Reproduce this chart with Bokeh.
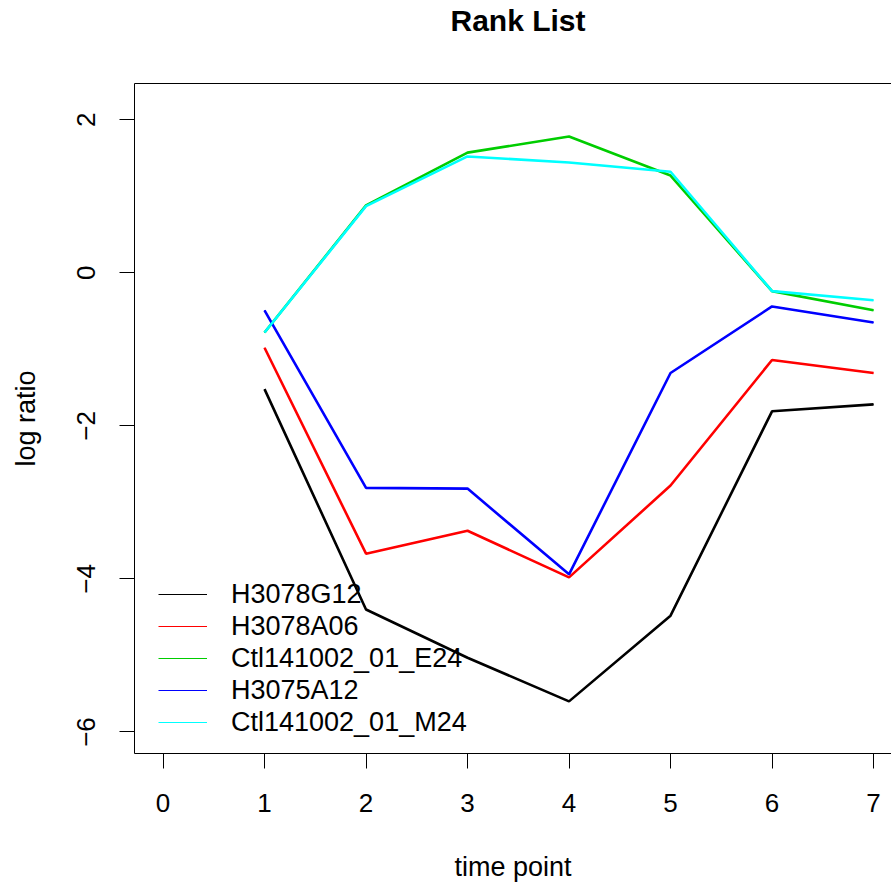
from bokeh.plotting import figure
from bokeh.models import Range1d, FixedTicker, Legend, LegendItem, Title, LinearAxis
from bokeh.embed import file_html
from bokeh.resources import INLINE

# ---- data ----
time_points = [1, 2, 3, 4, 5, 6, 7]
H3078G12 = [-1.52, -4.40, -5.03, -5.60, -4.48, -1.81, -1.72]
H3078A06 = [-0.98, -3.67, -3.37, -3.98, -2.78, -1.14, -1.31]
Ctl141002_01_E24 = [-0.78, 0.88, 1.57, 1.78, 1.27, -0.24, -0.49]
H3075A12 = [-0.49, -2.81, -2.82, -3.94, -1.31, -0.44, -0.65]
Ctl141002_01_M24 = [-0.78, 0.87, 1.52, 1.44, 1.32, -0.24, -0.36]

series_names = ["H3078G12", "H3078A06", "Ctl141002_01_E24", "H3075A12", "Ctl141002_01_M24"]
series_values = [H3078G12, H3078A06, Ctl141002_01_E24, H3075A12, Ctl141002_01_M24]
series_colors = ["#000000", "#FF0000", "#00CD00", "#0000FF", "#00FFFF"]

x_ticks = [0, 1, 2, 3, 4, 5, 6, 7]
y_ticks = [-6, -4, -2, 0, 2]
y_tick_labels = ["\u22126", "\u22124", "\u22122", "0", "2"]

FONT = "Liberation Sans"

p = figure(
    width=891, height=884,
    x_range=Range1d(-0.281, 7.177), y_range=Range1d(-6.281, 2.473),
    output_backend="svg", toolbar_location=None,
    min_border_left=134, min_border_right=0, min_border_top=83, min_border_bottom=131,
)
p.background_fill_color = "white"
p.border_fill_color = "white"
p.outline_line_color = None   # box drawn by axis lines (right side lies outside the view)
p.grid.visible = False

bottom_axis = p.below[0]
left_axis = p.left[0]

for ax in (bottom_axis, left_axis):
    ax.axis_line_color = "black"
    ax.axis_line_width = 1
    ax.major_tick_out = 15
    ax.major_tick_in = 0
    ax.minor_tick_out = 0
    ax.minor_tick_in = 0
    ax.major_tick_line_color = "black"
    ax.major_label_text_font = FONT
    ax.major_label_text_font_size = "26px"
    ax.major_label_text_color = "black"
    ax.axis_label_text_font = FONT
    ax.axis_label_text_font_size = "27px"
    ax.axis_label_text_font_style = "normal"
    ax.axis_label_text_color = "black"

bottom_axis.ticker = FixedTicker(ticks=x_ticks)
left_axis.ticker = FixedTicker(ticks=y_ticks)
left_axis.major_label_overrides = {t: lab for t, lab in zip(y_ticks, y_tick_labels)}
left_axis.major_label_orientation = "vertical"
bottom_axis.axis_label = "time point"
left_axis.axis_label = "log ratio"
bottom_axis.major_label_standoff = 25
bottom_axis.axis_label_standoff = 37
left_axis.major_label_standoff = 24
left_axis.axis_label_standoff = 34

# top edge of the box: a bare axis line
top_axis = LinearAxis(ticker=FixedTicker(ticks=[]), axis_line_color="black",
                      major_tick_out=0, major_tick_in=0, minor_tick_out=0, minor_tick_in=0,
                      major_label_standoff=0, major_label_text_font_size="0px")
p.add_layout(top_axis, "above")

# invisible spacer between frame and title
spacer = Title(text=" ", text_font_size="10px", standoff=34, text_font=FONT)
p.add_layout(spacer, "above")
p.title = Title(text="Rank List", text_font=FONT, text_font_size="30px",
                text_font_style="bold", text_color="black", align="left",
                offset=316, standoff=0)

# thin copies (hidden beneath the main lines) serve as legend glyphs
legend_renderers = []
for vals, col in zip(series_values, series_colors):
    legend_renderers.append(p.line(time_points, vals, line_color=col, line_width=1))
for vals, col in zip(series_values, series_colors):
    p.line(time_points, vals, line_color=col, line_width=2.6)

items = [LegendItem(label=name, renderers=[r]) for name, r in zip(series_names, legend_renderers)]

legend = Legend(
    items=items, location=(24, 15),
    border_line_color=None, background_fill_alpha=0,
    glyph_width=49, glyph_height=32, label_height=32, label_standoff=24,
    spacing=0, padding=0, margin=0,
    label_text_font=FONT, label_text_font_size="27px", label_text_color="black",
)
p.add_layout(legend)

open("out.html", "w").write(file_html(p, INLINE))
